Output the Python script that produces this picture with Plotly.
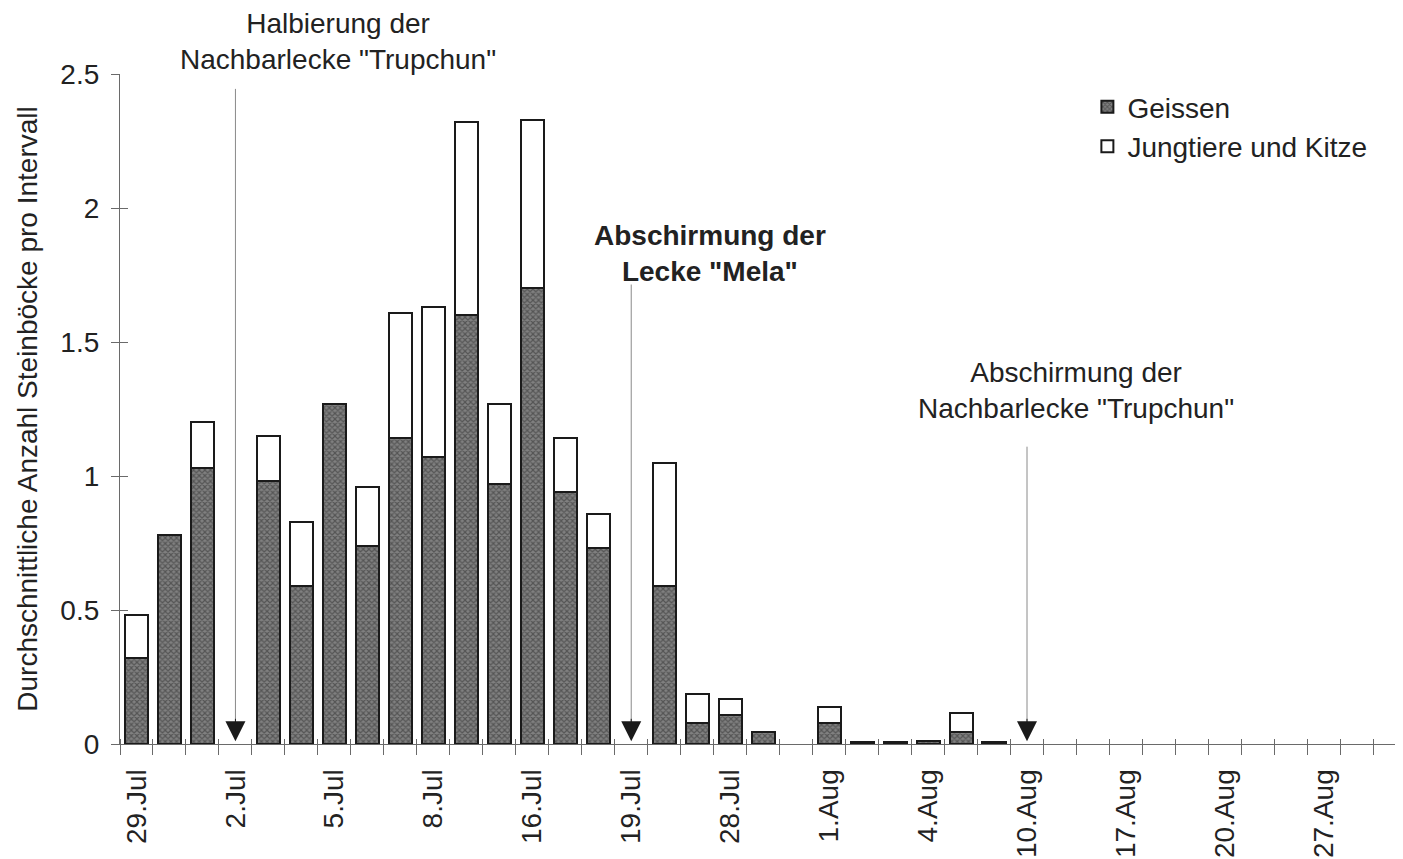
import plotly.graph_objects as go

# ── Data (one value per interval, 39 intervals) ─────────────────────
tick_labels = ["29.Jul", "2.Jul", "5.Jul", "8.Jul", "16.Jul", "19.Jul", "28.Jul",
               "1.Aug", "4.Aug", "10.Aug", "17.Aug", "20.Aug", "27.Aug"]
tick_every = 3

geissen = [0.32, 0.78, 1.03, 0.0, 0.98, 0.59, 1.27, 0.74, 1.14, 1.07,
           1.60, 0.97, 1.70, 0.94, 0.73, 0.0, 0.59, 0.08, 0.11, 0.045,
           0.0, 0.078, 0.008, 0.008, 0.013, 0.046, 0.008, 0.0, 0.0, 0.0,
           0.0, 0.0, 0.0, 0.0, 0.0, 0.0, 0.0, 0.0, 0.0]
jungtiere = [0.16, 0.0, 0.17, 0.0, 0.17, 0.24, 0.0, 0.22, 0.47, 0.56,
             0.72, 0.30, 0.63, 0.20, 0.13, 0.0, 0.46, 0.107, 0.057, 0.0,
             0.0, 0.06, 0.0, 0.0, 0.0, 0.071, 0.0, 0.0, 0.0, 0.0,
             0.0, 0.0, 0.0, 0.0, 0.0, 0.0, 0.0, 0.0, 0.0]

# events: interval index, top of arrow line, label text
event_idx = [3, 15, 27]
event_top = [2.45, 1.72, 1.115]
event_text = ['Halbierung der<br>Nachbarlecke "Trupchun"',
              'Abschirmung der<br>Lecke "Mela"',
              'Abschirmung der<br>Nachbarlecke "Trupchun"']
event_text_x = [6.1, 17.4, 28.5]
event_text_y = [2.62, 1.83, 1.32]
event_bold = [False, True, False]

FONT = "Liberation Sans, Arial, sans-serif"
INK = "#222222"
AXIS = "#6a6a6a"
YMAX = 2.5

x = list(range(len(geissen)))
xr = [-0.5, 38.4]


def blank_zero(vals):
    # empty intervals carry no bar at all (no outline on the baseline)
    return [v if v > 0 else None for v in vals]


fig = go.Figure()
fig.add_trace(go.Bar(
    x=x, y=blank_zero(geissen), name="Geissen", width=0.7,
    marker=dict(color="#6e6e6e", line=dict(color="#1a1a1a", width=2),
                pattern=dict(shape="x", size=4, solidity=0.5,
                             fgcolor="#2a2a2a", bgcolor="#808080")),
))
fig.add_trace(go.Bar(
    x=x, y=blank_zero(jungtiere), name="Jungtiere und Kitze", width=0.7,
    marker=dict(color="white", line=dict(color="#1a1a1a", width=2)),
))
# empty trace so the overlay axes (inner half of crossing ticks) are drawn
fig.add_trace(go.Scatter(x=[], y=[], xaxis="x2", yaxis="y2", showlegend=False))

for i, top, txt, tx, ty, bold in zip(event_idx, event_top, event_text,
                                      event_text_x, event_text_y, event_bold):
    # thin grey line
    fig.add_annotation(x=i, y=0.02, ax=i, ay=top, axref="x", ayref="y",
                       text="", showarrow=True, arrowhead=0, arrowwidth=1,
                       arrowcolor="#8a8a8a")
    # black triangular head
    fig.add_annotation(x=i, y=0.01, ax=0, ay=-24, text="", showarrow=True,
                       arrowhead=2, arrowsize=4, arrowwidth=1,
                       arrowcolor="#1a1a1a", standoff=0)
    label = f"<b>{txt}</b>" if bold else txt
    fig.add_annotation(x=tx, y=ty / YMAX, yref="paper", text=label,
                       showarrow=False,
                       font=dict(family=FONT, size=28, color=INK),
                       align="center", xanchor="center", yanchor="middle")

fig.update_layout(
    width=1395, height=851,
    template="simple_white",
    paper_bgcolor="white", plot_bgcolor="rgba(0,0,0,0)",
    barmode="stack",
    margin=dict(l=112, r=0, t=66, b=115),
    font=dict(family=FONT, size=28, color=INK),
    legend=dict(x=0.754, y=0.988, xanchor="left", yanchor="top",
                traceorder="normal", font=dict(size=28), tracegroupgap=0,
                itemwidth=30, bgcolor="rgba(0,0,0,0)"),
    xaxis=dict(
        range=xr, showgrid=False, zeroline=False,
        showline=True, linecolor=AXIS, linewidth=1.2,
        tickmode="array",
        tickvals=[k * tick_every for k in range(len(tick_labels))],
        ticktext=tick_labels, tickangle=-90, ticks="", ticklen=0,
        ticklabelstandoff=13,
        tickfont=dict(size=28, color=INK),
        minor=dict(tickmode="linear", tick0=-0.5, dtick=1, ticks="outside",
                   ticklen=10, tickcolor=AXIS, tickwidth=1.2),
    ),
    xaxis2=dict(
        range=xr, overlaying="x", anchor="y2", showgrid=False, zeroline=False,
        showline=False, showticklabels=False, ticks="",
        minor=dict(tickmode="linear", tick0=-0.5, dtick=1, ticks="inside",
                   ticklen=5, tickcolor=AXIS, tickwidth=1.2),
    ),
    yaxis=dict(
        range=[0, YMAX], showgrid=False, zeroline=False,
        showline=True, linecolor=AXIS, linewidth=1.2,
        tickvals=[0, 0.5, 1, 1.5, 2, 2.5],
        ticktext=["0", "0.5", "1", "1.5", "2", "2.5"],
        ticks="outside", ticklen=8, tickcolor=AXIS, tickwidth=1.2,
        ticklabelstandoff=6,
        tickfont=dict(size=28, color=INK),
        title=dict(text="Durchschnittliche Anzahl Steinböcke pro Intervall",
                   font=dict(size=28, color=INK), standoff=14),
    ),
    yaxis2=dict(
        range=[0, YMAX], overlaying="y", anchor="x2", showgrid=False,
        zeroline=False, showline=False, showticklabels=False,
        tickvals=[0, 0.5, 1, 1.5, 2, 2.5], ticks="inside", ticklen=8,
        tickcolor=AXIS, tickwidth=1.2,
    ),
)

fig.write_html("out.html")
